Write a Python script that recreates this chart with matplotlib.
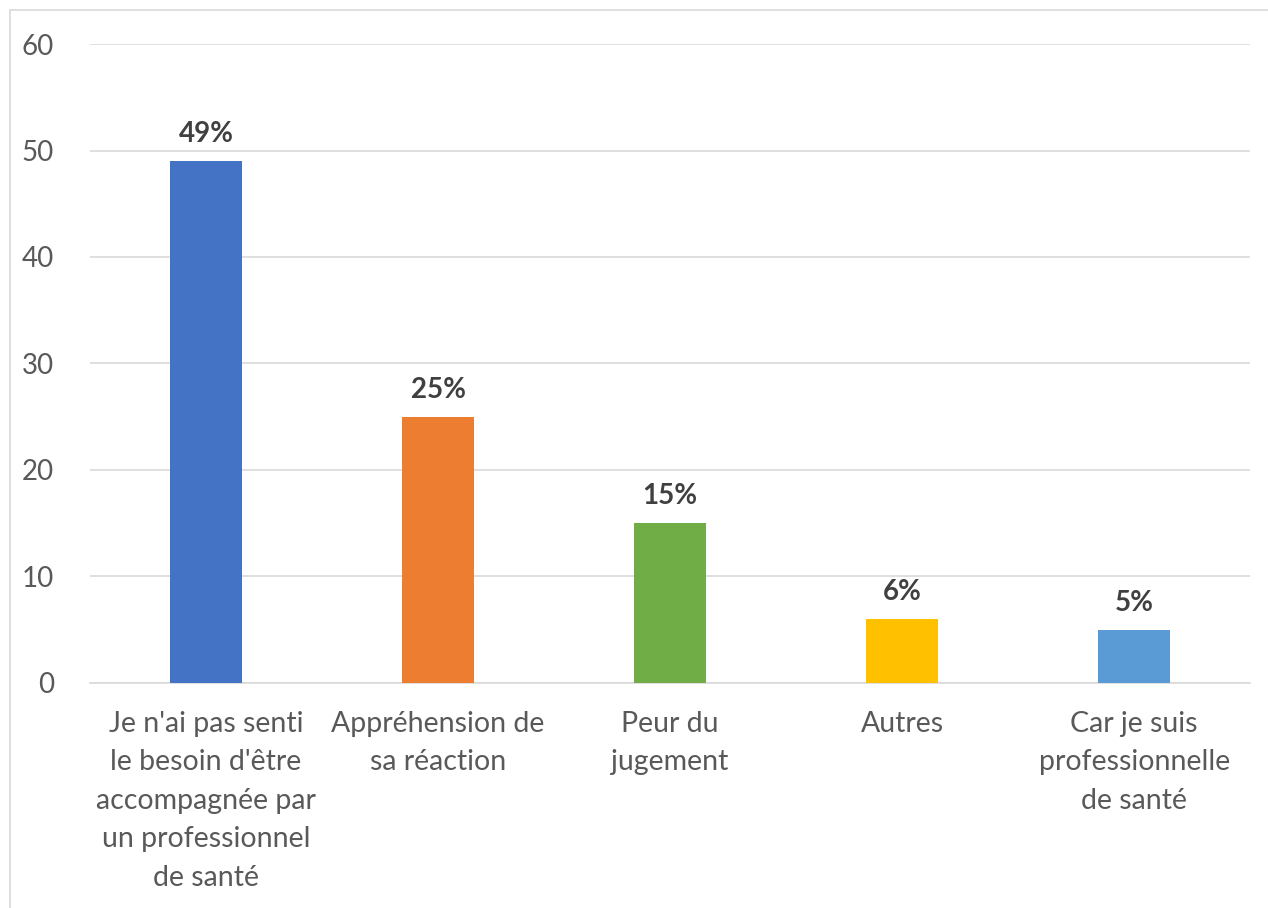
import matplotlib.pyplot as plt
from matplotlib.patches import Rectangle

plt.rcParams['font.family'] = ['Lato', 'DejaVu Sans']

categories = [
    "Je n'ai pas senti\nle besoin d'être\naccompagnée par\nun professionnel\nde santé",
    "Appréhension de\nsa réaction",
    "Peur du\njugement",
    "Autres",
    "Car je suis\nprofessionnelle\nde santé",
]
values = [49, 25, 15, 6, 5]
labels = ["49%", "25%", "15%", "6%", "5%"]
colors = ["#4472C4", "#ED7D31", "#70AD47", "#FFC000", "#5B9BD5"]
yticks = [0, 10, 20, 30, 40, 50, 60]

fig = plt.figure(figsize=(12.68, 9.08), dpi=100)
ax = fig.add_axes([0.071, 0.248, 0.915, 0.7035])

x = range(len(values))
ax.bar(x, values, width=0.31, color=colors, zorder=3)
for xi, v, lab in zip(x, values, labels):
    ax.text(xi, v + 1.3, lab, ha='center', va='bottom', fontsize=20,
            fontweight='bold', color='#404040')

ax.set_xlim(-0.5, 4.5)
ax.set_ylim(0, 60)
ax.set_yticks(yticks)
ax.set_xticks(list(x))
ax.set_xticklabels(categories, fontsize=20.5, color='#595959', linespacing=1.6, va='top')
ax.tick_params(axis='y', labelsize=20, labelcolor='#595959', length=0, pad=26)
ax.tick_params(axis='x', length=0, pad=20)
ax.grid(axis='y', color='#D9D9D9', linewidth=1.2, zorder=0)
for s in ['left', 'right', 'top']:
    ax.spines[s].set_visible(False)
ax.spines['bottom'].set_color('#D9D9D9')
ax.spines['bottom'].set_linewidth(1.2)

fig.patches.append(Rectangle((0.008, -0.01), 1.1, 0.999, transform=fig.transFigure,
                             fill=False, edgecolor='#D9D9D9', linewidth=1.2))

fig.savefig('out.png', dpi=100)
